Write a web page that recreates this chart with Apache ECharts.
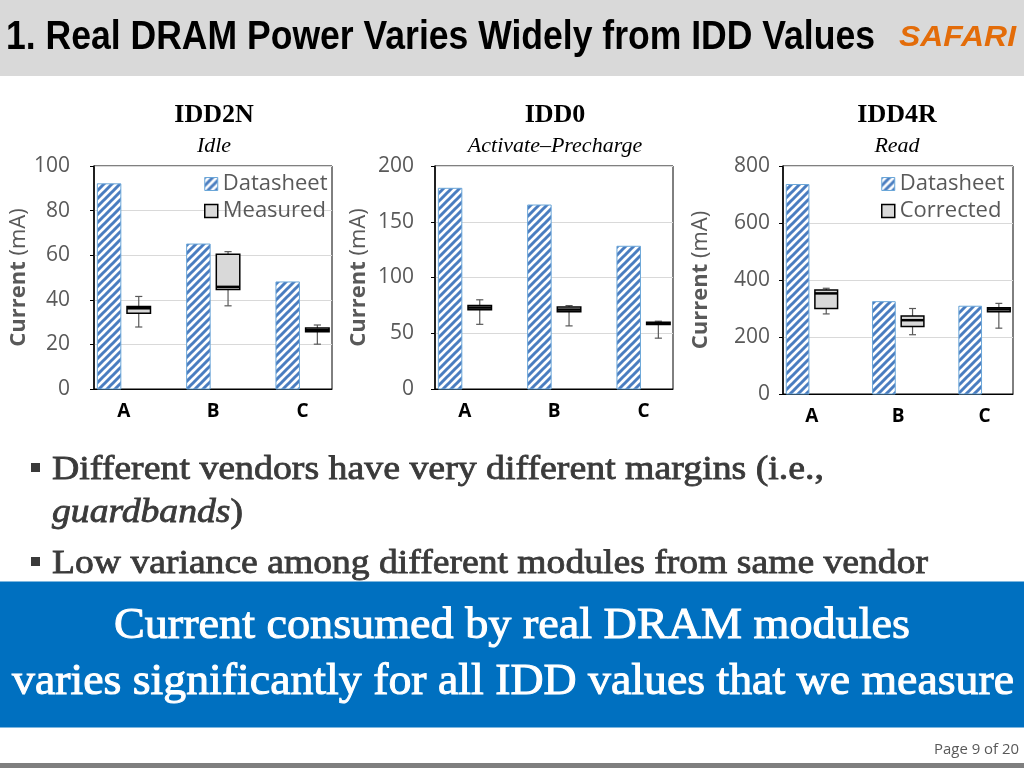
<!DOCTYPE html>
<html>
<head>
<meta charset="utf-8">
<title>Real DRAM Power Varies Widely from IDD Values</title>
<script src="https://cdn.jsdelivr.net/npm/echarts@6/dist/echarts.min.js"></script>
<style>
    html, body { margin: 0; padding: 0; background: #fff; }
    #main { width: 1024px; height: 768px; }
</style>
</head>
<body>
<div id="main"></div>
<script>
// vendors on the x axis
var categories = ['A', 'B', 'C'];

// datasheet values (mA)
var idd2nSheet = [92, 65, 48];
var idd0Sheet = [180, 165, 128];
var idd4rSheet = [735, 324, 308];

// measured boxes: [min, q1, median, q3, max]
var idd2nBox = [[27.8, 34, 36.2, 37, 41.5], [37.3, 44.6, 45.8, 60.4, 61.6], [20.1, 25.7, 26.4, 27.3, 28.7]];
var idd0Box = [[58, 71, 73, 75, 80], [56.6, 69.2, 71.2, 73.6, 74.8], [45.6, 57.8, 59, 59.9, 60.8]];
var idd4rBox = [[281, 300, 353, 365, 371], [208, 237, 259, 274, 300], [231, 289, 297, 303, 318]];

// y axis ranges / tick steps
var yMax = [100, 200, 800];
var yStep = [20, 50, 200];

var chartTitles = ['IDD2N', 'IDD0', 'IDD4R'];
var chartSubs = ['Idle', 'Activate\u2013Precharge', 'Read'];
var boxNames = ['Measured', 'Measured', 'Corrected'];

var SANS = '"Open Sans", "Noto Sans", sans-serif';
var SERIF = '"Liberation Serif", "DejaVu Serif", serif';
var OFFSET = 0.166;  // bar / box shift from label, in category units
var BAR_W = 0.263;
var BOX_W = 0.263;
var CAP_W = 0.08;

// striped fill for datasheet bars
var tile = document.createElement('canvas');
tile.width = 8; tile.height = 8;
(function () {
    var c = tile.getContext('2d');
    c.fillStyle = '#ffffff';
    c.fillRect(0, 0, 8, 8);
    c.strokeStyle = '#4a7dc0';
    c.lineWidth = 3;
    c.beginPath();
    c.moveTo(-4, 4); c.lineTo(4, -4);
    c.moveTo(0, 8); c.lineTo(8, 0);
    c.moveTo(4, 12); c.lineTo(12, 4);
    c.stroke();
})();
var stripe = { image: tile, repeat: 'repeat' };

var mctx = document.createElement('canvas').getContext('2d');
function fit(font, text, target) {
    mctx.font = font;
    return target / mctx.measureText(text).width;
}

function renderBar(params, api) {
    var x = api.value(0) - OFFSET;
    var top = api.coord([x - BAR_W / 2, api.value(1)]);
    var base = api.coord([x + BAR_W / 2, 0]);
    return {
        type: 'rect',
        shape: { x: top[0], y: top[1], width: base[0] - top[0], height: base[1] - top[1] },
        style: { fill: stripe, stroke: '#6aa6d8', lineWidth: 1 }
    };
}

function renderBox(params, api) {
    var x = api.value(0) + OFFSET;
    var pLo = api.coord([x, api.value(1)]);
    var pQ1 = api.coord([x, api.value(2)]);
    var pMed = api.coord([x, api.value(3)]);
    var pQ3 = api.coord([x, api.value(4)]);
    var pHi = api.coord([x, api.value(5)]);
    var half = api.size([BOX_W, 0])[0] / 2;
    var cap = api.size([CAP_W, 0])[0] / 2;
    var cx = pLo[0];
    var wh = { stroke: '#595959', lineWidth: 1.2 };
    return {
        type: 'group',
        children: [
            { type: 'line', shape: { x1: cx, y1: pHi[1], x2: cx, y2: pLo[1] }, style: wh },
            { type: 'line', shape: { x1: cx - cap, y1: pHi[1], x2: cx + cap, y2: pHi[1] }, style: wh },
            { type: 'line', shape: { x1: cx - cap, y1: pLo[1], x2: cx + cap, y2: pLo[1] }, style: wh },
            { type: 'rect', shape: { x: cx - half, y: pQ3[1], width: half * 2, height: pQ1[1] - pQ3[1] },
              style: { fill: '#d9d9d9', stroke: '#000', lineWidth: 1.5 } },
            { type: 'line', shape: { x1: cx - half, y1: pMed[1], x2: cx + half, y2: pMed[1] },
              style: { stroke: '#000', lineWidth: 2.5 } }
        ]
    };
}

var sheets = [idd2nSheet, idd0Sheet, idd4rSheet];
var boxes = [idd2nBox, idd0Box, idd4rBox];

var grids = [
    { left: 94, top: 166, width: 238, height: 223 },
    { left: 435, top: 166, width: 238, height: 223 },
    { left: 783, top: 166, width: 230, height: 228 }
];
var labelMargin = [24, 21, 13];
var nameGap = [61, 65, 71];
var titleX = [214, 555, 897];

var xAxes = [], yAxes = [], series = [];
grids.forEach(function (g, i) {
    g.show = true;
    g.borderColor = '#000';
    g.borderWidth = 1;
    g.containLabel = false;
    g.outerBoundsMode = 'none';

    xAxes.push({
        gridIndex: i,
        type: 'value',
        min: -0.335,
        max: 2.33,
        axisLine: { show: true, onZero: false, lineStyle: { color: '#000', width: 1 } },
        axisTick: { show: false },
        splitLine: { show: false },
        axisLabel: {
            customValues: [0, 1, 2],
            margin: 13,
            fontFamily: SANS,
            fontSize: 19,
            fontWeight: 'bold',
            color: '#000',
            formatter: function (v) { return categories[Math.round(v)] || ''; }
        }
    });

    yAxes.push({
        gridIndex: i,
        type: 'value',
        min: 0,
        max: yMax[i],
        interval: yStep[i],
        name: '{b|Current} (mA)',
        nameLocation: 'middle',
        nameGap: nameGap[i],
        nameTextStyle: {
            fontFamily: SANS, fontSize: 22, color: '#595959',
            rich: { b: { fontFamily: SANS, fontSize: 22, fontWeight: 'bold', color: '#595959' } }
        },
        axisLine: { show: true, onZero: false, lineStyle: { color: '#000', width: 1.5 } },
        axisTick: { show: true, length: 4, lineStyle: { color: '#000' } },
        splitLine: { show: true, lineStyle: { color: '#d9d9d9', width: 1 } },
        axisLabel: { margin: labelMargin[i], fontFamily: SANS, fontSize: 21, color: '#595959' }
    });

    series.push({
        name: 'Datasheet',
        type: 'custom',
        xAxisIndex: i,
        yAxisIndex: i,
        renderItem: renderBar,
        itemStyle: { color: stripe, borderColor: '#6aa6d8', borderWidth: 1 },
        encode: { x: 0, y: 1 },
        data: sheets[i].map(function (v, k) { return [k, v]; })
    });
    series.push({
        name: boxNames[i],
        type: 'custom',
        xAxisIndex: i,
        yAxisIndex: i,
        renderItem: renderBox,
        itemStyle: { color: '#d9d9d9', borderColor: '#000', borderWidth: 1.5 },
        encode: { x: 0, y: [1, 2, 3, 4, 5] },
        data: boxes[i].map(function (b, k) { return [k].concat(b); })
    });
});

function legendFor(left, boxName) {
    return {
        left: left,
        top: 168,
        orient: 'vertical',
        icon: 'rect',
        itemWidth: 13,
        itemHeight: 13,
        itemGap: 5,
        selectedMode: false,
        textStyle: { fontFamily: SANS, fontSize: 22, color: '#595959' },
        data: [
            { name: 'Datasheet', itemStyle: { color: stripe, borderColor: '#6aa6d8', borderWidth: 1 } },
            { name: boxName, itemStyle: { color: '#d9d9d9', borderColor: '#000', borderWidth: 1.5 } }
        ]
    };
}

// slide texts
var headFont = 'bold 40px "Liberation Sans Narrow", "Liberation Sans", sans-serif';
var headText = '1. Real DRAM Power Varies Widely from IDD Values';
var logoFont = 'italic bold 30px "Liberation Sans", sans-serif';
var bodyFont = '34px ' + SERIF;
var bodyItal = 'italic 34px ' + SERIF;
var bannerFont = '44px ' + SERIF;
var pageFont = '15px ' + SANS;
var bodyColor = '#3a3a3a';

var bullet1 = 'Different vendors have very different margins (i.e.,';
var bullet1b = 'guardbands';
var bullet2 = 'Low variance among different modules from same vendor';
var banner1 = 'Current consumed by real DRAM modules';
var banner2 = 'varies significantly for all IDD values that we measure';
var pageText = 'Page 9 of 20';

var bodyScale = fit(bodyFont, bullet2, 876);
mctx.font = bodyItal;
var italW = mctx.measureText(bullet1b).width * bodyScale;

// regular serif with a thin outline to get a semibold look
function bodyStyle(text, font) {
    return { text: text, font: font, fill: bodyColor, stroke: bodyColor, lineWidth: 0.8,
             textAlign: 'left', textVerticalAlign: 'middle' };
}
function bannerStyle(text) {
    return { text: text, font: bannerFont, fill: '#fff', stroke: '#fff', lineWidth: 1,
             textAlign: 'center', textVerticalAlign: 'middle' };
}

var graphics = [
    { type: 'rect', shape: { x: 0, y: 0, width: 1024, height: 76 }, style: { fill: '#d9d9d9' }, z: -1 },
    { type: 'text', x: 6, y: 38, scaleX: fit(headFont, headText, 869),
      style: { text: headText, font: headFont, fill: '#000', textAlign: 'left', textVerticalAlign: 'middle' } },
    { type: 'text', x: 899, y: 38, scaleX: fit(logoFont, 'SAFARI', 117),
      style: { text: 'SAFARI', font: logoFont, fill: '#e36c09', textAlign: 'left', textVerticalAlign: 'middle' } },

    { type: 'rect', shape: { x: 31, y: 463, width: 9, height: 9 }, style: { fill: bodyColor } },
    { type: 'text', x: 52, y: 470, scaleX: fit(bodyFont, bullet1, 772), style: bodyStyle(bullet1, bodyFont) },
    { type: 'text', x: 52, y: 513, scaleX: bodyScale, style: bodyStyle(bullet1b, bodyItal) },
    { type: 'text', x: 52 + italW, y: 513, scaleX: bodyScale, style: bodyStyle(')', bodyFont) },
    { type: 'rect', shape: { x: 31, y: 557, width: 9, height: 9 }, style: { fill: bodyColor } },
    { type: 'text', x: 52, y: 564, scaleX: bodyScale, style: bodyStyle(bullet2, bodyFont) },

    { type: 'rect', shape: { x: 0, y: 581.5, width: 1024, height: 146 }, style: { fill: '#0070c0' } },
    { type: 'text', x: 512, y: 626, scaleX: fit(bannerFont, banner1, 796), style: bannerStyle(banner1) },
    { type: 'text', x: 513, y: 682, scaleX: fit(bannerFont, banner2, 1002), style: bannerStyle(banner2) },

    { type: 'text', x: 1019, y: 750, scaleX: fit(pageFont, pageText, 85),
      style: { text: pageText, font: pageFont, fill: '#595959', textAlign: 'right', textVerticalAlign: 'middle' } },
    { type: 'rect', shape: { x: 0, y: 763, width: 1024, height: 5 }, style: { fill: '#7f7f7f' } }
];

chartTitles.forEach(function (t, i) {
    graphics.push({ type: 'text', x: titleX[i], y: 115,
        style: { text: t, font: 'bold 26px ' + SERIF, fill: '#000', textAlign: 'center', textVerticalAlign: 'middle' } });
    graphics.push({ type: 'text', x: titleX[i], y: 146,
        style: { text: chartSubs[i], font: 'italic 22px ' + SERIF, fill: '#000', textAlign: 'center', textVerticalAlign: 'middle' } });
});

var myChart = echarts.init(document.getElementById('main'), null, { renderer: 'canvas' });
myChart.setOption({
    backgroundColor: '#fff',
    animation: false,
    grid: grids,
    xAxis: xAxes,
    yAxis: yAxes,
    legend: [legendFor(199, 'Measured'), legendFor(876, 'Corrected')],
    series: series,
    graphic: graphics
});
</script>
</body>
</html>
